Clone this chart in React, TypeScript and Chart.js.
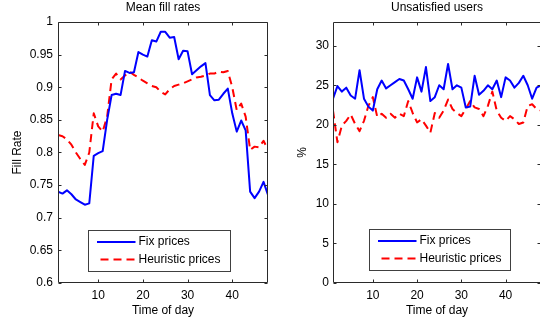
import React, { useEffect, useRef } from 'react';
import { Chart, registerables } from 'chart.js';

Chart.register(...registerables);

// ---------------- data ----------------
const timeOfDay = [
  1, 2, 3, 4, 5, 6, 7, 8, 9, 10, 11, 12, 13, 14, 15, 16, 17, 18, 19, 20, 21, 22, 23, 24,
  25, 26, 27, 28, 29, 30, 31, 32, 33, 34, 35, 36, 37, 38, 39, 40, 41, 42, 43, 44, 45, 46, 47, 48,
];

const fillFixPrices = [
  0.74, 0.737, 0.742, 0.736, 0.728, 0.724, 0.72, 0.722, 0.795, 0.799, 0.802, 0.85,
  0.888, 0.89, 0.888, 0.925, 0.922, 0.923, 0.954, 0.95, 0.947, 0.972, 0.97, 0.985,
  0.985, 0.976, 0.977, 0.943, 0.956, 0.955, 0.92, 0.926, 0.932, 0.937, 0.888, 0.88,
  0.881, 0.89, 0.898, 0.86, 0.832, 0.849, 0.834, 0.74, 0.73, 0.74, 0.755, 0.735,
];

const fillHeuristicPrices = [
  0.827, 0.825, 0.82, 0.812, 0.8, 0.79, 0.781, 0.8, 0.86, 0.84, 0.832, 0.855,
  0.912, 0.921, 0.912, 0.918, 0.924, 0.919, 0.915, 0.91, 0.906, 0.902, 0.9, 0.893,
  0.889, 0.897, 0.902, 0.904, 0.906, 0.909, 0.912, 0.915, 0.916, 0.918, 0.921, 0.921,
  0.924, 0.923, 0.925, 0.9, 0.865, 0.875, 0.855, 0.804, 0.809, 0.808, 0.818, 0.804,
];

const unsatFixPrices = [
  23.3, 24.9, 24.2, 24.7, 23.7, 23.3, 26.9, 23.3, 22.3, 21.8, 24.5, 25.6,
  24.6, 25.0, 25.4, 25.8, 25.6, 24.5, 23.3, 26.0, 24.2, 27.3, 23.0, 23.5,
  25.0, 24.5, 27.7, 24.5, 25.0, 24.7, 22.2, 22.3, 26.2, 23.8, 24.3, 25.0,
  24.5, 25.6, 23.5, 26.0, 25.6, 24.7, 25.3, 26.2, 25.0, 23.3, 24.7, 25.0,
];

const unsatHeuristicPrices = [
  21.8, 17.8, 19.9, 20.5, 21.3, 20.1, 19.2, 20.5, 22.4, 23.5, 21.0, 21.4,
  20.9, 21.4, 20.9, 21.4, 21.1, 23.0, 21.5, 20.3, 20.7, 19.9, 19.0, 21.5,
  20.9, 21.8, 23.2, 22.0, 21.5, 21.1, 22.0, 23.0, 22.2, 22.0, 21.1, 22.4,
  24.2, 21.8, 20.9, 20.5, 21.1, 20.7, 20.1, 20.3, 22.4, 22.6, 22.0, 21.8,
];

const seriesNames = ['Fix prices', 'Heuristic prices'];
const xTickValues = [10, 20, 30, 40];
const fillTickValues = [0.6, 0.65, 0.7, 0.75, 0.8, 0.85, 0.9, 0.95, 1];
const fillTickLabels = ['0.6', '0.65', '0.7', '0.75', '0.8', '0.85', '0.9', '0.95', '1'];
const unsatTickValues = [0, 5, 10, 15, 20, 25, 30];
const unsatTickLabels = ['0', '5', '10', '15', '20', '25', '30'];

const BLUE = '#0000ff';
const RED = '#ff0000';
const FRAME = '#2a2a2a';
const FONT = '"Liberation Sans", Arial, Helvetica, sans-serif';

// ---------------- MATLAB-style frame, ticks, title and legend ----------------
const matlabPlugin = {
  id: 'matlab',
  afterDraw(chart: any, _args: any, opts: any) {
    const { ctx, chartArea: a } = chart;
    const xs = chart.scales.x;
    const ys = chart.scales.y;
    ctx.save();
    const L = Math.round(a.left) + 0.5;
    const R = Math.round(a.right) - 0.5;
    const T = Math.round(a.top) + 0.5;
    const B = Math.round(a.bottom) - 0.5;
    ctx.strokeStyle = FRAME;
    ctx.lineWidth = 1;
    ctx.setLineDash([]);
    ctx.beginPath();
    ctx.rect(L, T, R - L, B - T);
    const tl = 3;
    xs.ticks.forEach((t: any) => {
      const px = Math.round(xs.getPixelForValue(t.value)) + 0.5;
      ctx.moveTo(px, B);
      ctx.lineTo(px, B - tl);
      ctx.moveTo(px, T);
      ctx.lineTo(px, T + tl);
    });
    ys.ticks.forEach((t: any) => {
      const py = Math.round(ys.getPixelForValue(t.value)) + 0.5;
      ctx.moveTo(L, py);
      ctx.lineTo(L + tl, py);
      ctx.moveTo(R, py);
      ctx.lineTo(R - tl, py);
    });
    ctx.stroke();

    // title
    ctx.fillStyle = '#000';
    ctx.font = `12px ${FONT}`;
    ctx.textAlign = 'center';
    ctx.textBaseline = 'middle';
    ctx.fillText(opts.title, (a.left + a.right) / 2, opts.titleY);

    // legend
    const bx = Math.round(a.left + opts.legendDx) + 0.5;
    const by = Math.round(a.bottom - opts.legendDy - opts.legendH) + 0.5;
    ctx.fillStyle = '#fff';
    ctx.fillRect(bx, by, opts.legendW, opts.legendH);
    ctx.strokeStyle = '#404040';
    ctx.lineWidth = 1;
    ctx.strokeRect(bx, by, opts.legendW, opts.legendH);
    chart.data.datasets.forEach((ds: any, i: number) => {
      const y = by + 11.5 + i * 17.5;
      ctx.strokeStyle = ds.borderColor;
      ctx.lineWidth = ds.borderWidth;
      ctx.setLineDash(ds.borderDash || []);
      ctx.beginPath();
      ctx.moveTo(bx + (ds.borderDash && ds.borderDash.length ? 12 : 8.5), y);
      ctx.lineTo(bx + 47, y);
      ctx.stroke();
      ctx.setLineDash([]);
      ctx.fillStyle = '#000';
      ctx.textAlign = 'left';
      ctx.textBaseline = 'middle';
      ctx.fillText(ds.label, bx + 50, y);
    });
    ctx.restore();
  },
};

function buildConfig(p: any) {
  const mk = (vals: number[]) => timeOfDay.map((t, i) => ({ x: t, y: vals[i] }));
  return {
    type: 'line',
    data: {
      datasets: [
        {
          label: seriesNames[0],
          data: mk(p.fix),
          borderColor: BLUE,
          borderWidth: 2,
          pointRadius: 0,
          borderDash: [],
          borderJoinStyle: 'round',
          tension: 0,
        },
        {
          label: seriesNames[1],
          data: mk(p.heur),
          borderColor: RED,
          borderWidth: 2,
          pointRadius: 0,
          borderDash: [8, 5],
          borderJoinStyle: 'round',
          tension: 0,
        },
      ],
    },
    options: {
      responsive: false,
      animation: false,
      events: [],
      layout: { padding: { top: 22, right: p.padRight, left: 0, bottom: 0 } },
      plugins: {
        legend: { display: false },
        tooltip: { enabled: false },
        title: { display: false },
        matlab: {
          title: p.title,
          titleY: 8,
          legendDx: p.legendDx,
          legendDy: p.legendDy,
          legendW: p.legendW,
          legendH: 41,
        },
      },
      scales: {
        x: {
          type: 'linear',
          min: 1,
          max: 48,
          grid: { display: false, drawTicks: false },
          border: { display: false },
          afterBuildTicks: (s: any) => {
            s.ticks = xTickValues.map((v) => ({ value: v }));
          },
          afterFit: (s: any) => {
            s.height = 40;
          },
          ticks: {
            padding: 5,
            color: '#000',
            font: { size: 12, family: FONT },
            maxRotation: 0,
            autoSkip: false,
            callback: (v: any) => String(v),
          },
          title: {
            display: true,
            text: 'Time of day',
            color: '#000',
            font: { size: 12, family: FONT },
            padding: { top: 0, bottom: 5 },
          },
        },
        y: {
          type: 'linear',
          min: p.yMin,
          max: p.yMax,
          grid: { display: false, drawTicks: false },
          border: { display: false },
          afterBuildTicks: (s: any) => {
            s.ticks = p.yTicks.map((v: number) => ({ value: v }));
          },
          afterFit: (s: any) => {
            s.width = p.yWidth;
          },
          ticks: {
            padding: p.yPad,
            color: '#000',
            font: { size: 12, family: FONT },
            autoSkip: false,
            callback: (_v: any, i: number) => p.yLabels[i],
          },
          title: {
            display: true,
            text: p.yTitle,
            color: '#000',
            font: { size: 12, family: FONT },
            padding: { top: p.yTitlePad, bottom: 0 },
          },
        },
      },
    },
    plugins: [matlabPlugin],
  };
}

export default function App() {
  const leftRef = useRef<HTMLCanvasElement>(null);
  const rightRef = useRef<HTMLCanvasElement>(null);

  useEffect(() => {
    const left = new Chart(
      leftRef.current as HTMLCanvasElement,
      buildConfig({
        fix: fillFixPrices,
        heur: fillHeuristicPrices,
        title: 'Mean fill rates',
        yTitle: 'Fill Rate',
        yMin: 0.6,
        yMax: 1,
        yTicks: fillTickValues,
        yLabels: fillTickLabels,
        yWidth: 58,
        yPad: 5,
        yTitlePad: 10,
        padRight: 2,
        legendDx: 30,
        legendDy: 12,
        legendW: 142,
      }) as any
    );
    const right = new Chart(
      rightRef.current as HTMLCanvasElement,
      buildConfig({
        fix: unsatFixPrices,
        heur: unsatHeuristicPrices,
        title: 'Unsatisfied users',
        yTitle: '%',
        yMin: 0,
        yMax: 33,
        yTicks: unsatTickValues,
        yLabels: unsatTickLabels,
        yWidth: 63,
        yPad: 4,
        yTitlePad: 25,
        padRight: 5,
        legendDx: 36,
        legendDy: 13,
        legendW: 141,
      }) as any
    );
    return () => {
      left.destroy();
      right.destroy();
    };
  }, []);

  return (
    <div
      style={{
        position: 'absolute',
        left: 0,
        top: 0,
        width: 540,
        height: 323,
        overflow: 'hidden',
        background: '#fff',
      }}
    >
      <canvas
        ref={leftRef}
        width={270}
        height={323}
        style={{ position: 'absolute', left: 0, top: 0, display: 'block' }}
      />
      <canvas
        ref={rightRef}
        width={276}
        height={323}
        style={{ position: 'absolute', left: 270, top: 0, display: 'block' }}
      />
    </div>
  );
}
